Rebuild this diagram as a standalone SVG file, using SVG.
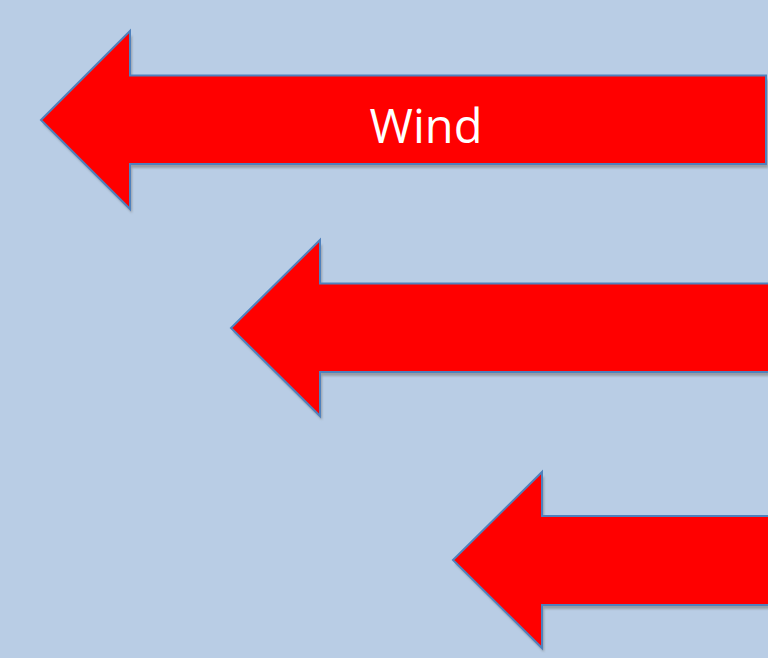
<svg xmlns="http://www.w3.org/2000/svg" width="768" height="658" viewBox="0 0 768 658">
<style>
.arrow{fill:#FF0000;stroke:#4F81BD;stroke-width:2;stroke-linejoin:miter}
.shadow{fill:#7F7F7F;opacity:0.6}
.label{font-family:"Open Sans","DejaVu Sans",sans-serif;font-size:47px;fill:#FFFFFF;text-anchor:middle}
</style>
<defs>
<filter id="blur" x="-5%" y="-5%" width="110%" height="110%"><feGaussianBlur stdDeviation="1"/></filter>
</defs>
<rect width="768" height="658" fill="#B9CDE5"/>
<g id="arrow1">
<polygon class="shadow" filter="url(#blur)" transform="translate(2,4)" points="41,120 130,31 130,75.5 766,75.5 766,164 130,164 130,209"/>
<polygon class="arrow" points="41,120 130,31 130,75.5 766,75.5 766,164 130,164 130,209"/>
<text class="label" x="426" y="143">Wind</text>
</g>
<g id="arrow2">
<polygon class="shadow" filter="url(#blur)" transform="translate(2,4)" points="231,328 320,240 320,283.5 780,283.5 780,372 320,372 320,416"/>
<polygon class="arrow" points="231,328 320,240 320,283.5 780,283.5 780,372 320,372 320,416"/>
</g>
<g id="arrow3">
<polygon class="shadow" filter="url(#blur)" transform="translate(2,4)" points="453,560 542,472 542,516 780,516 780,605 542,605 542,648"/>
<polygon class="arrow" points="453,560 542,472 542,516 780,516 780,605 542,605 542,648"/>
</g>
<g id="connectors"/>
</svg>
